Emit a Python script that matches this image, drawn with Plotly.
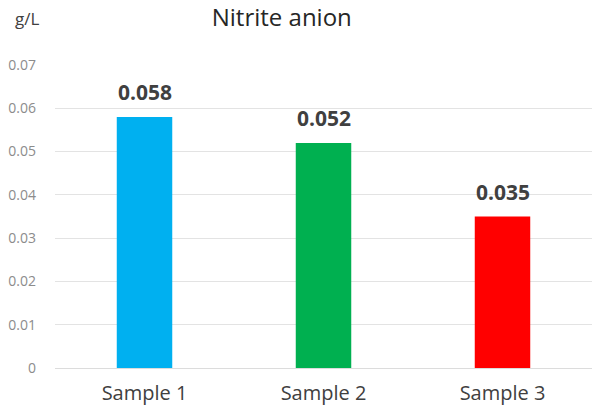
import plotly.graph_objects as go

categories = ["Sample 1", "Sample 2", "Sample 3"]
values = [0.058, 0.052, 0.035]
labels = ["0.058", "0.052", "0.035"]
colors = ["#00B0F0", "#00B050", "#FF0000"]
tick_vals = [0, 0.01, 0.02, 0.03, 0.04, 0.05, 0.06, 0.07]
tick_text = ["0", "0.01", "0.02", "0.03", "0.04", "0.05", "0.06", "0.07"]

FONT = "'Open Sans', sans-serif"

fig = go.Figure()
fig.add_trace(go.Bar(x=categories, y=values, marker=dict(color=colors, line=dict(width=0)),
                     width=0.31, hoverinfo="skip"))

for c, v, t in zip(categories, values, labels):
    fig.add_annotation(x=c, y=v, text="<b>%s</b>" % t, showarrow=False,
                       yanchor="middle", yshift=25,
                       font=dict(family=FONT, size=21, color="#404040"))

fig.add_annotation(xref="paper", yref="paper", x=-0.052, y=1.155,
                   text="g/L", showarrow=False, xanchor="center", yanchor="middle",
                   font=dict(family=FONT, size=17, color="#404040"))

fig.update_layout(
    width=597, height=410,
    margin=dict(l=55, r=5, t=65, b=42),
    paper_bgcolor="white", plot_bgcolor="white",
    showlegend=False,
    title=dict(text="Nitrite anion", x=0.472, xanchor="center", xref="container",
               y=0.958, yanchor="middle",
               font=dict(family=FONT, size=24, color="#262626")),
    xaxis=dict(showgrid=False, showline=True, linecolor="#DCDCDC", linewidth=1,
               ticks="", ticklabelstandoff=7,
               tickfont=dict(family=FONT, size=20, color="#404040")),
    yaxis=dict(range=[0, 0.07], tickvals=tick_vals, ticktext=tick_text,
               showgrid=True, gridcolor="#E3E3E3", gridwidth=1, zeroline=False,
               showline=False, ticks="", ticklabelstandoff=18,
               tickfont=dict(family=FONT, size=14, color="#8C8C8C")),
)

fig.write_html("out.html", config={"displayModeBar": False},
               post_script="document.body.style.margin='0';")
